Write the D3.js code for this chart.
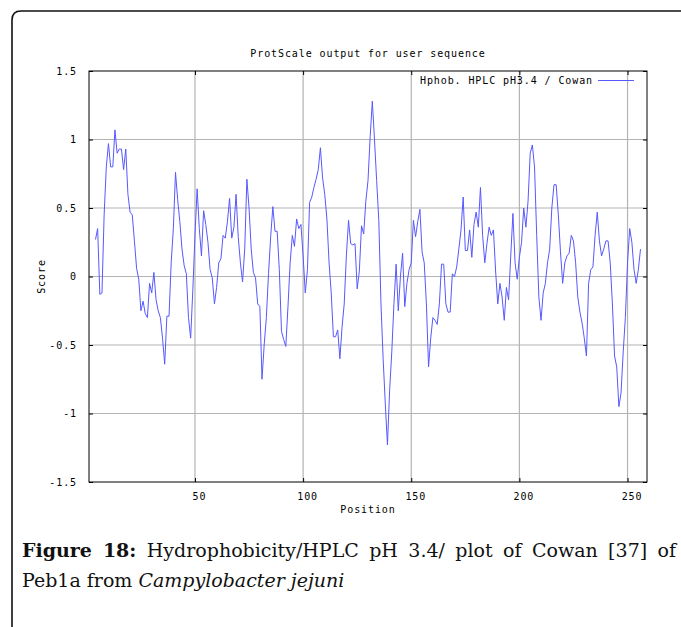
<!DOCTYPE html>
<html>
<head>
<meta charset="utf-8">
<script src="https://cdn.jsdelivr.net/npm/d3@7"></script>
<style>
	body { margin: 0; background: #fff; }
	svg { display: block; }
</style>
</head>
<body>
<script>
// DATA
var chartTitle = "ProtScale output for user sequence"
var seriesName = "Hphob. HPLC pH3.4 / Cowan"
var xLabel = "Position"
var yLabel = "Score"
var xDomain = [1, 259]
var yDomain = [-1.5, 1.5]
var xTicks = [50, 100, 150, 200, 250]
var yTicks = [-1.5, -1, -0.5, 0, 0.5, 1, 1.5]
var firstPosition = 4 // window centre of the first score

// scores, position 4 .. 256
var scores = [
	0.27, 0.35, -0.13, -0.12, 0.45, 0.8, 0.97, 0.8, 0.8, 1.07,
	0.9, 0.93, 0.93, 0.78, 0.93, 0.6, 0.47, 0.45, 0.26, 0.06,
	-0.02, -0.25, -0.18, -0.27, -0.3, -0.05, -0.12, 0.03, -0.17, -0.25,
	-0.3, -0.45, -0.64, -0.29, -0.29, 0.1, 0.35, 0.76, 0.56, 0.4,
	0.2, 0.08, 0.02, -0.3, -0.45, -0.1, 0.3, 0.64, 0.35, 0.15,
	0.48, 0.38, 0.25, 0.05, -0.01, -0.2, -0.08, 0.1, 0.13, 0.3,
	0.28, 0.4, 0.57, 0.28, 0.36, 0.6, 0.29, 0.1, -0.04, 0.2,
	0.71, 0.5, 0.2, 0.03, -0.01, -0.2, -0.22, -0.75, -0.5, -0.3,
	0.02, 0.29, 0.51, 0.33, 0.33, 0.05, -0.4, -0.46, -0.51, -0.22,
	0.1, 0.3, 0.22, 0.42, 0.35, 0.38, 0.15, -0.12, 0.05, 0.54,
	0.58, 0.65, 0.71, 0.78, 0.94, 0.72, 0.6, 0.42, 0.1, -0.12,
	-0.44, -0.44, -0.39, -0.6, -0.37, -0.2, 0.15, 0.41, 0.24, 0.23,
	0.24, -0.09, 0.04, 0.37, 0.31, 0.55, 0.7, 1.02, 1.28, 1.0,
	0.7, 0.41, -0.2, -0.6, -0.93, -1.23, -0.83, -0.55, -0.2, 0.09,
	-0.25, 0.0, 0.17, -0.22, -0.05, 0.05, 0.1, 0.41, 0.29, 0.4,
	0.49, 0.18, 0.1, -0.2, -0.66, -0.45, -0.3, -0.32, -0.35, -0.2,
	0.09, 0.09, -0.2, -0.26, -0.26, 0.02, 0.0, 0.07, 0.2, 0.34,
	0.58, 0.19, 0.19, 0.34, 0.14, 0.38, 0.47, 0.36, 0.65, 0.3,
	0.1, 0.24, 0.36, 0.3, 0.34, 0.04, -0.2, -0.05, -0.15, -0.32,
	-0.08, -0.17, 0.15, 0.46, 0.1, -0.02, 0.14, 0.25, 0.5, 0.36,
	0.55, 0.9, 0.96, 0.8, 0.3, -0.15, -0.32, -0.12, -0.05, 0.1,
	0.2, 0.5, 0.67, 0.67, 0.45, 0.18, -0.05, 0.1, 0.15, 0.17,
	0.3, 0.26, 0.1, -0.15, -0.26, -0.34, -0.45, -0.58, -0.05, 0.05,
	0.07, 0.3, 0.47, 0.26, 0.15, 0.2, 0.26, 0.26, 0.1, -0.2,
	-0.58, -0.66, -0.95, -0.85, -0.55, -0.3, 0.1, 0.35, 0.25, 0.05,
	-0.05, 0.05, 0.2
]

// LAYOUT
var config = {
	width: 681,
	height: 627,
	plot: { left: 89, right: 647, top: 71, bottom: 482 },
	mono: "'DejaVu Sans Mono', monospace",
	serif: "'DejaVu Serif', serif",
	lineColor: "#5858ff",
	gridColor: "#b4b4b4"
}

var svg = d3.select("body")
	.append("svg")
	.attr("width", config.width)
	.attr("height", config.height)

// outer frame of the figure (runs off the right and bottom)
svg.append("path")
	.attr("d", "M12,640 L12,20 Q12,11 21,11 L700,11")
	.attr("fill", "none")
	.attr("stroke", "#111")
	.attr("stroke-width", 1.6)

var x = d3.scaleLinear().domain(xDomain).range([config.plot.left, config.plot.right])
var y = d3.scaleLinear().domain(yDomain).range([config.plot.bottom, config.plot.top])

var g = svg.append("g")

// grid
g.selectAll(".vgrid")
	.data(xTicks)
	.enter().append("line")
	.attr("x1", function(d) { return x(d) })
	.attr("x2", function(d) { return x(d) })
	.attr("y1", config.plot.top)
	.attr("y2", config.plot.bottom)
	.attr("stroke", config.gridColor)
	.attr("stroke-width", 1.2)

g.selectAll(".hgrid")
	.data(yTicks.slice(1, -1))
	.enter().append("line")
	.attr("x1", config.plot.left)
	.attr("x2", config.plot.right)
	.attr("y1", function(d) { return y(d) })
	.attr("y2", function(d) { return y(d) })
	.attr("stroke", config.gridColor)
	.attr("stroke-width", 1.2)

// axes with inward ticks, no domain path (frame drawn separately)
function styleAxis(sel) {
	sel.select(".domain").remove()
	sel.selectAll(".tick line").attr("stroke", "#000")
	sel.selectAll("text")
		.attr("font-family", config.mono)
		.attr("font-size", 10)
		.attr("letter-spacing", 0.9)
		.attr("fill", "#000")
}

g.append("g")
	.attr("transform", "translate(0," + config.plot.bottom + ")")
	.call(d3.axisBottom(x).tickValues(xTicks).tickSizeInner(-4).tickSizeOuter(0).tickPadding(11).tickFormat(d3.format("d")))
	.call(styleAxis)
	.selectAll("text").attr("dx", 4)

g.append("g")
	.attr("transform", "translate(0," + config.plot.top + ")")
	.call(d3.axisTop(x).tickValues(xTicks).tickSizeInner(-4).tickSizeOuter(0).tickFormat(""))
	.call(styleAxis)

g.append("g")
	.attr("transform", "translate(" + config.plot.left + ",0)")
	.call(d3.axisLeft(y).tickValues(yTicks).tickSizeInner(-4).tickSizeOuter(0).tickPadding(12).tickFormat(function(d) { return String(d) }))
	.call(styleAxis)

g.append("g")
	.attr("transform", "translate(" + config.plot.right + ",0)")
	.call(d3.axisRight(y).tickValues(yTicks).tickSizeInner(-4).tickSizeOuter(0).tickFormat(""))
	.call(styleAxis)

// series
var points = scores.map(function(d, i) { return { pos: firstPosition + i, score: d } })

g.append("path")
	.datum(points)
	.attr("fill", "none")
	.attr("stroke", config.lineColor)
	.attr("stroke-width", 1)
	.attr("d", d3.line()
		.x(function(d) { return x(d.pos) })
		.y(function(d) { return y(d.score) }))

// plot frame
g.append("rect")
	.attr("x", config.plot.left)
	.attr("y", config.plot.top)
	.attr("width", config.plot.right - config.plot.left)
	.attr("height", config.plot.bottom - config.plot.top)
	.attr("fill", "none")
	.attr("stroke", "#000")
	.attr("stroke-width", 1)

// legend
var legend = g.append("g")
legend.append("text")
	.attr("x", 593)
	.attr("y", 84)
	.attr("text-anchor", "end")
	.attr("font-family", config.mono)
	.attr("font-size", 10)
	.attr("letter-spacing", 0.9)
	.text(seriesName)
legend.append("line")
	.attr("x1", 598)
	.attr("x2", 634)
	.attr("y1", 80.5)
	.attr("y2", 80.5)
	.attr("stroke", config.lineColor)
	.attr("stroke-width", 1)

// titles
svg.append("text")
	.attr("x", (config.plot.left + config.plot.right) / 2)
	.attr("y", 57)
	.attr("text-anchor", "middle")
	.attr("font-family", config.mono)
	.attr("font-size", 10)
	.attr("letter-spacing", 0.9)
	.text(chartTitle)

svg.append("text")
	.attr("x", (config.plot.left + config.plot.right) / 2)
	.attr("y", 513)
	.attr("text-anchor", "middle")
	.attr("font-family", config.mono)
	.attr("font-size", 10)
	.attr("letter-spacing", 0.9)
	.text(xLabel)

svg.append("text")
	.attr("transform", "translate(45," + y(0) + ") rotate(-90)")
	.attr("text-anchor", "middle")
	.attr("font-family", config.mono)
	.attr("font-size", 10)
	.attr("letter-spacing", 0.9)
	.text(yLabel)

// caption
var line1 = svg.append("text")
	.attr("x", 22)
	.attr("y", 557)
	.attr("font-family", config.serif)
	.attr("font-size", 19)
	.attr("fill", "#111")
line1.append("tspan").attr("font-weight", "bold").text("Figure 18:")
line1.append("tspan").text(" Hydrophobicity/HPLC pH 3.4/ plot of Cowan [37] of")

// justify the first line to the column width
var target = 676 - 22
var natural = line1.node().getComputedTextLength()
var spaces = 9
if (natural < target) line1.attr("word-spacing", (target - natural) / spaces)

var line2 = svg.append("text")
	.attr("x", 22)
	.attr("y", 587)
	.attr("font-family", config.serif)
	.attr("font-size", 19)
	.attr("fill", "#111")
line2.append("tspan").text("Peb1a from ")
line2.append("tspan").attr("font-style", "italic").text("Campylobacter jejuni")
</script>
</body>
</html>
